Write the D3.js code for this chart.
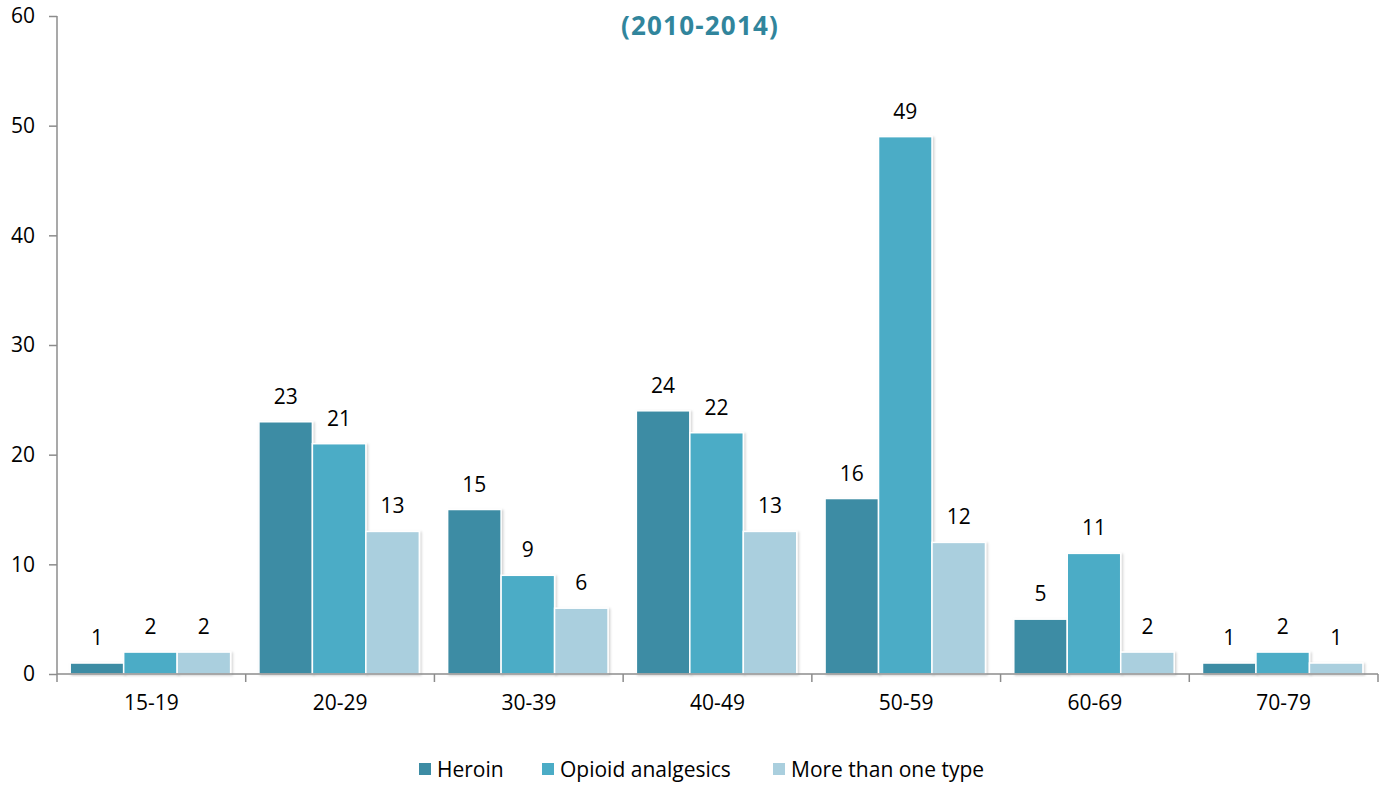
<!DOCTYPE html>
<html><head><meta charset="utf-8">
<script src="https://cdn.jsdelivr.net/npm/d3@7"></script>
<style>body{margin:0;background:#fff}svg{display:block}</style>
</head><body>
<svg id="c" width="1389" height="785"></svg>
<script>
const categories = ["15-19","20-29","30-39","40-49","50-59","60-69","70-79"];
const seriesNames = ["Heroin","Opioid analgesics","More than one type"];
const heroin = [1,23,15,24,16,5,1];
const opioid = [2,21,9,22,49,11,2];
const moreThanOne = [2,13,6,13,12,2,1];
const yTicks = [0,10,20,30,40,50,60];
const title = "(2010-2014)";

const colors = ["#3d8ca4","#4bacc6","#aacfde"];
const series = [heroin, opioid, moreThanOne];
const font = "'Open Sans', sans-serif";
const fs = 21;

const svg = d3.select("#c");
const m = {l:57, r:11, t:16, b:111};
const W = 1389, H = 785;
const x0 = d3.scaleBand().domain(categories).range([m.l, W-m.r]).padding(0);
const bw = x0.bandwidth();
const x1 = d3.scaleBand().domain(seriesNames).range([bw*0.07, bw*0.92]).padding(0);
const y = d3.scaleLinear().domain([0,60]).range([H-m.b, m.t]);

const defs = svg.append("defs");
const f = defs.append("filter").attr("id","sh").attr("x","-10%").attr("y","-10%").attr("width","130%").attr("height","130%");
f.append("feDropShadow").attr("dx",1.5).attr("dy",1).attr("stdDeviation",1).attr("flood-color","#000").attr("flood-opacity",0.18);

// title
svg.append("text").attr("x",700).attr("y",35).attr("text-anchor","middle")
  .attr("font-family",font).attr("font-weight","bold").attr("font-size",26)
  .attr("letter-spacing",1.2).attr("fill","#31859c").text(title);

// bars
const g = svg.append("g");
categories.forEach((c,i)=>{
  seriesNames.forEach((s,j)=>{
    const v = series[j][i];
    const bx = x0(c)+x1(s);
    g.append("rect").attr("x",bx).attr("y",y(v)).attr("width",x1.bandwidth()).attr("height",y(0)-y(v))
      .attr("fill",colors[j]).attr("stroke","#fff").attr("stroke-width",1.5).attr("filter","url(#sh)");
    g.append("text").attr("x",bx+x1.bandwidth()/2).attr("y",y(v)-18).attr("text-anchor","middle")
      .attr("font-family",font).attr("font-size",fs).attr("fill","#000").text(v);
  });
});

// y axis
const ya = svg.append("g").attr("transform",`translate(${m.l},0)`)
  .call(d3.axisLeft(y).tickValues(yTicks).tickSize(8).tickPadding(14));
ya.selectAll("path,line").attr("stroke","#8c8c8c").attr("stroke-width",1.5);
ya.select(".domain").attr("d",`M0,${y(60)}V${y(0)}`);
ya.selectAll("text").attr("font-family",font).attr("font-size",fs).attr("fill","#000");

// x axis
const xa = svg.append("g").attr("transform",`translate(0,${y(0)})`)
  .call(d3.axisBottom(x0).tickSize(0).tickPadding(21));
xa.select(".domain").attr("stroke","#8c8c8c").attr("stroke-width",1.5).attr("d",`M${m.l},0H${W-m.r}`);
xa.selectAll("text").attr("font-family",font).attr("font-size",fs).attr("fill","#000");
const bounds = categories.map(c=>x0(c)).concat([x0(categories[categories.length-1])+bw]);
svg.append("g").selectAll("line").data(bounds).join("line")
  .attr("x1",d=>d).attr("x2",d=>d).attr("y1",y(0)).attr("y2",y(0)+8)
  .attr("stroke","#8c8c8c").attr("stroke-width",1.5);

// legend
const legendX = [419, 542, 773];
const lg = svg.append("g");
seriesNames.forEach((s,j)=>{
  lg.append("rect").attr("x",legendX[j]).attr("y",763).attr("width",12).attr("height",12).attr("fill",colors[j]);
  lg.append("text").attr("x",legendX[j]+18).attr("y",777).attr("font-family",font).attr("font-size",fs).attr("fill","#000").text(s);
});
</script>
</body></html>
